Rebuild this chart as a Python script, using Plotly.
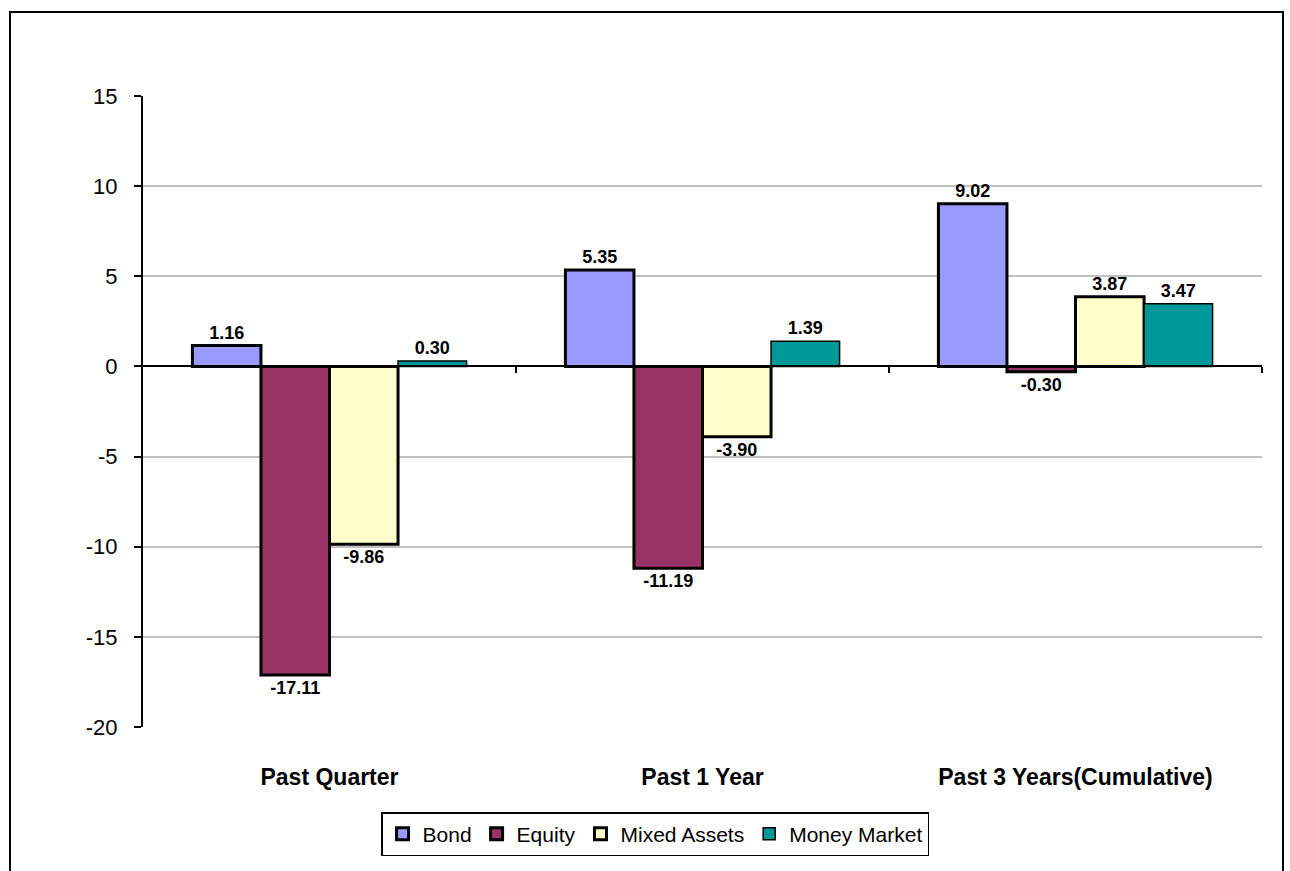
import plotly.graph_objects as go

categories = ["Past Quarter", "Past 1 Year", "Past 3 Years(Cumulative)"]
series_names = ["Bond", "Equity", "Mixed Assets", "Money Market"]
bond = [1.16, 5.35, 9.02]
equity = [-17.11, -11.19, -0.30]
mixed = [-9.86, -3.90, 3.87]
money = [0.30, 1.39, 3.47]
y_ticks = [-20, -15, -10, -5, 0, 5, 10, 15]
y_tick_labels = ["-20", "-15", "-10", "-5", "0", "5", "10", "15"]

FONT = "Liberation Sans, Arial, sans-serif"
colors = ["#9999FF", "#993366", "#FFFFCC", "#009999"]
line_widths = [3, 3, 3, 1.5]

fig = go.Figure()
for name, vals, col, lw in zip(series_names, [bond, equity, mixed, money], colors, line_widths):
    fig.add_trace(go.Bar(
        name=name, x=categories, y=vals,
        marker=dict(color=col, line=dict(color="black", width=lw)),
        text=[f"{v:.2f}" for v in vals], textposition="outside",
        textfont=dict(family=FONT, size=18, color="black", weight="bold"),
        constraintext="none", cliponaxis=False,
    ))

# invisible trace to hold the zero-level category axis
fig.add_trace(go.Scatter(x=[-0.5, 2.5], y=[0, 0], xaxis="x2", yaxis="y",
                         mode="lines", line=dict(width=0), showlegend=False,
                         hoverinfo="skip"))

fig.update_layout(
    width=1290, height=871,
    paper_bgcolor="white", plot_bgcolor="white",
    margin=dict(l=143, r=28, t=96, b=144),
    barmode="group", bargap=0.265, bargroupgap=0,
    font=dict(family=FONT, color="black"),
    xaxis=dict(
        type="category", showline=False, ticks="", showgrid=False,
        tickfont=dict(family=FONT, size=23, weight="bold"),
        ticklabelstandoff=34,
    ),
    xaxis2=dict(
        overlaying="x", anchor="free", position=20 / 35,
        range=[-0.5, 2.5], showline=True, linecolor="black", linewidth=1.5,
        ticks="outside", ticklen=6, tickwidth=1.5, tickcolor="black",
        tickvals=[0.5, 1.5, 2.5], showticklabels=False, showgrid=False,
        zeroline=False,
    ),
    yaxis=dict(
        range=[-20, 15], tickvals=y_ticks, ticktext=y_tick_labels,
        showline=True, linecolor="black",
        linewidth=2, ticks="outside", ticklen=7, tickwidth=2, tickcolor="black",
        showgrid=True, gridcolor="#C0C0C0", gridwidth=1.5, zeroline=False,
        tickfont=dict(family=FONT, size=22), ticklabelstandoff=12,
    ),
    legend=dict(
        orientation="h", x=0.4576, xanchor="center", y=-0.135, yanchor="top",
        bordercolor="black", borderwidth=1.5, bgcolor="white",
        font=dict(family=FONT, size=21), itemwidth=30,
        tracegroupgap=0,
    ),
    shapes=[dict(type="rect", xref="paper", yref="paper",
                 x0=(10 - 143) / 1119, x1=(1283 - 143) / 1119,
                 y0=-0.3, y1=(727 - 12) / 631,
                 line=dict(color="black", width=2), fillcolor="rgba(0,0,0,0)",
                 layer="below")],
)

fig.write_html("out.html")
